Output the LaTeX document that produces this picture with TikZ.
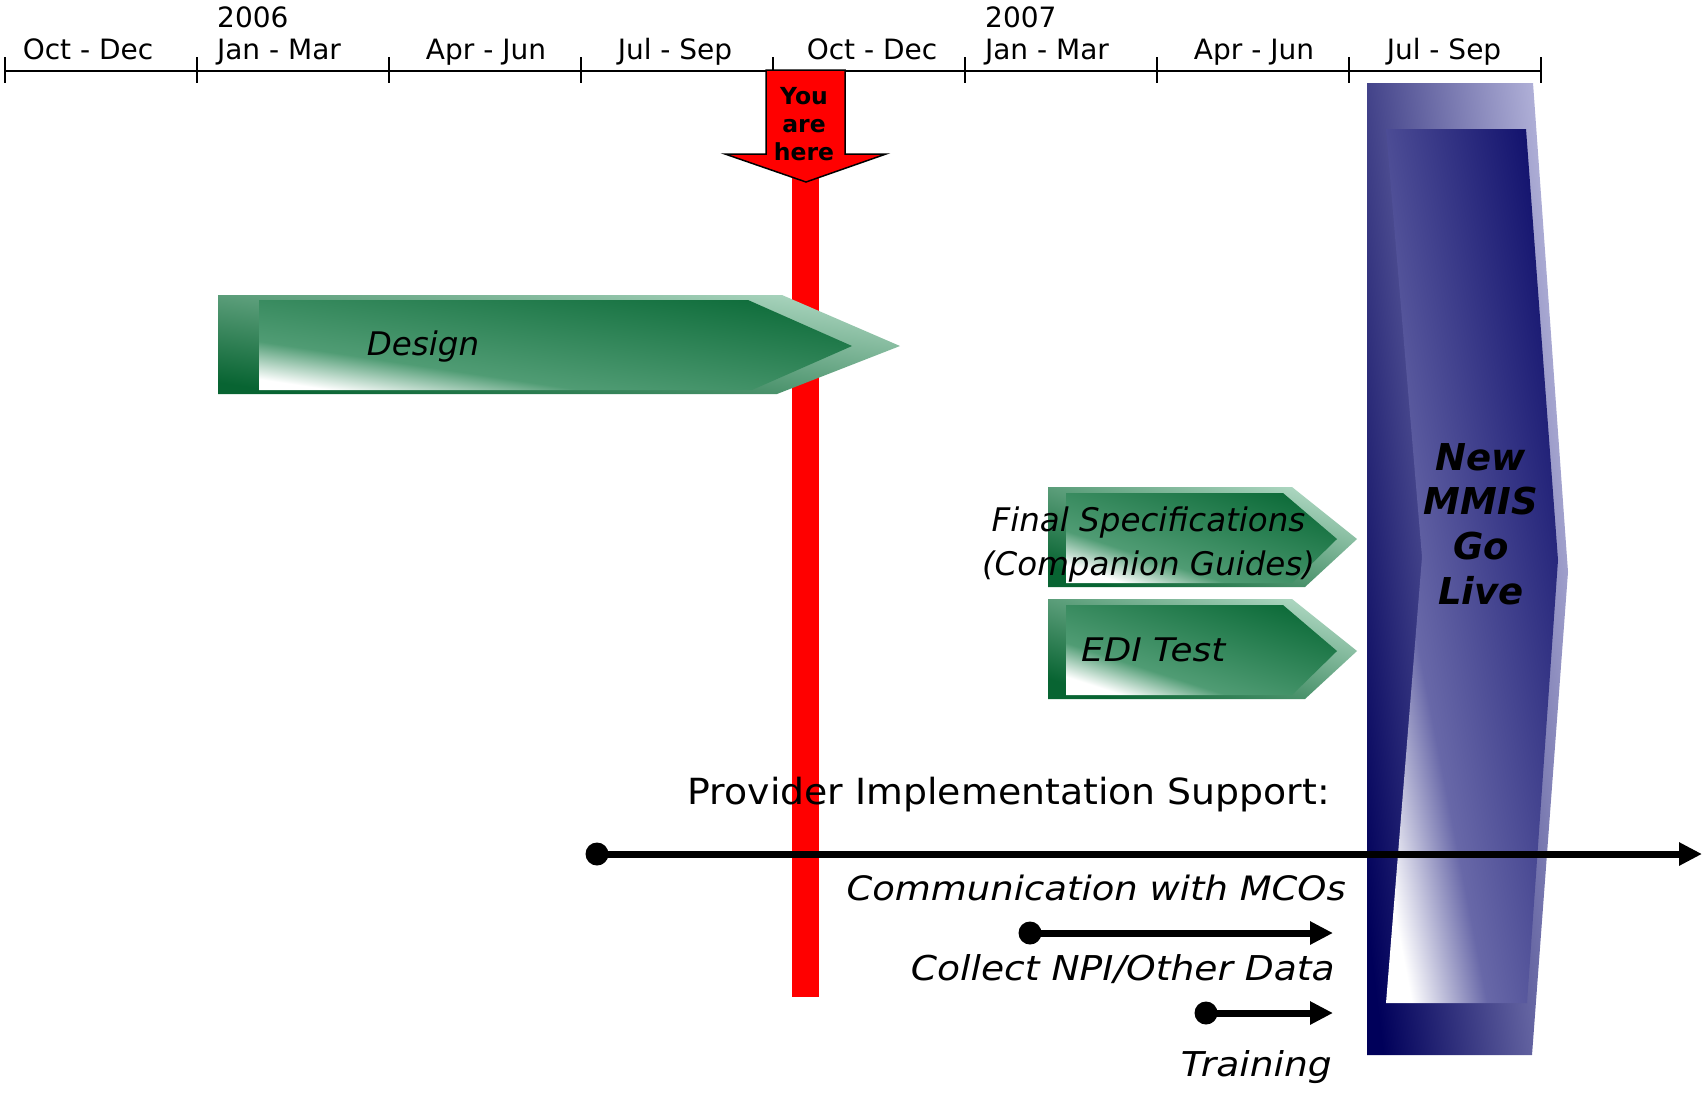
\documentclass[tikz,border=0pt]{standalone}
\usepackage{fontspec}
\setmainfont{DejaVu Sans}[BoldFont={DejaVu Sans Bold},ItalicFont={DejaVu Sans Oblique},BoldItalicFont={DejaVu Sans Bold Oblique}]
\newfontfamily\wideoblique{DejaVu Sans Oblique}[FakeStretch=1.1]
\newfontfamily\wideupright{DejaVu Sans}[FakeStretch=1.05]
\usetikzlibrary{arrows.meta}
\definecolor{gDark}{RGB}{8,100,50}
\definecolor{gLight}{RGB}{172,214,192}
\definecolor{gMid}{RGB}{80,156,116}
\definecolor{gFaceDark}{RGB}{14,108,58}
\definecolor{bDark}{RGB}{0,0,90}
\definecolor{bLight}{RGB}{188,188,224}
\definecolor{bMid}{RGB}{104,104,168}
\definecolor{bFaceDark}{RGB}{16,16,108}
\definecolor{youRed}{RGB}{255,0,0}
\pgfdeclareverticalshading{gfaceshade}{100bp}{color(0bp)=(white); color(25bp)=(white); color(37bp)=(gMid); color(75bp)=(gFaceDark); color(100bp)=(gFaceDark)}
\pgfdeclareverticalshading{bfaceshade}{100bp}{color(0bp)=(white); color(25bp)=(white); color(38bp)=(bMid); color(75bp)=(bFaceDark); color(100bp)=(bFaceDark)}
\begin{document}
\begin{tikzpicture}[x=1pt,y=-1pt,
  qlab/.style={font=\fontsize{28}{33}\selectfont, inner sep=0pt, anchor=base},
  tasklab/.style={font=\itshape\fontsize{32.5}{44}\selectfont, inner sep=0pt, align=center},
  supportlab/.style={font=\wideoblique\fontsize{34.2}{40}\selectfont, inner sep=0pt, anchor=base east},
  gframe/.style={top color=gLight, bottom color=gDark, shading angle=#1},
  gface/.style={shading=gfaceshade, shading angle=#1},
  bframe/.style={top color=bLight, bottom color=bDark, shading angle=#1},
  bface/.style={shading=bfaceshade, shading angle=#1},
  tline/.style={line width=2pt, black},
  dotline/.style={line width=7pt, -{Triangle[length=23pt,width=22pt]}},
  dotstart/.style={fill=black}]
\useasboundingbox (0,0) rectangle (1705,1093);

% timeline
\coordinate (tl0) at (4.5,70.5);
\coordinate (tl1) at (1541.5,70.5);
\draw[tline] (tl0) -- (tl1);
\foreach \i in {0,...,8}{
  \coordinate (tk\i a) at ({4.5+192.1*\i},57);
  \coordinate (tk\i b) at ({4.5+192.1*\i},83);
  \draw[tline] (tk\i a) -- (tk\i b);
}
\node[qlab, anchor=base west] (y2006) at (217,27) {2006};
\node[qlab, anchor=base west] (y2007) at (985,27) {2007};
\node[qlab] (q1) at (88,59) {Oct - Dec};
\node[qlab] (q2) at (279,59) {Jan - Mar};
\node[qlab] (q3) at (486,59) {Apr - Jun};
\node[qlab] (q4) at (675,59) {Jul - Sep};
\node[qlab] (q5) at (872,59) {Oct - Dec};
\node[qlab] (q6) at (1047,59) {Jan - Mar};
\node[qlab] (q7) at (1254,59) {Apr - Jun};
\node[qlab] (q8) at (1444,59) {Jul - Sep};

% red "now" bar
\fill[youRed] (792,170) rectangle (819,997);

% Design arrow
\path[gframe=-8.3] (218,295) -- (782,295) -- (900,346) -- (777,394) -- (218,394) -- cycle;
\path[gface=-8.6] (259,300) -- (748,300) -- (852,346) -- (752,390) -- (259,390) -- cycle;
\node[tasklab, anchor=base] (design) at (423,355) {Design};

% You are here arrow
\filldraw[fill=youRed, draw=black, line width=1.5pt, line join=miter]
  (766,70) -- (845,70) -- (845,154) -- (886,154) -- (806,182) -- (725,154) -- (766,154) -- cycle;
\node[font=\bfseries\fontsize{23.5}{28.3}\selectfont, inner sep=0pt, align=center] (here) at (804,124) {You\\are\\here};

% Final specifications arrow
\path[gframe=-18] (1048,487) -- (1292,487) -- (1357,539) -- (1305,587) -- (1048,587) -- cycle;
\path[gface=-18] (1066,493) -- (1283,493) -- (1337,539) -- (1292,583) -- (1066,583) -- cycle;
% EDI arrow
\path[gframe=-18] (1048,599) -- (1292,599) -- (1357,651) -- (1305,699) -- (1048,699) -- cycle;
\path[gface=-18] (1066,605) -- (1283,605) -- (1337,651) -- (1292,695) -- (1066,695) -- cycle;
\node[tasklab] (finspec) at (1148.5,545) {Final Specifications\\(Companion Guides)};
\node[font=\wideoblique\fontsize{32.5}{40}\selectfont, inner sep=0pt, anchor=base west] (edi) at (1081,661) {EDI Test};

% Go live block
\path[bframe=-83] (1367,83) -- (1533,83) -- (1568,572) -- (1532,1055) -- (1367,1055) -- cycle;
\path[bface=-79] (1386,129) -- (1526,129) -- (1558,560) -- (1527,1003) -- (1386,1003) -- (1422,557) -- cycle;
\node[font=\bfseries\itshape\fontsize{37}{44.6}\selectfont, inner sep=0pt, align=center] (golive) at (1481,524) {New\\MMIS\\Go\\Live};

% provider implementation support
\node[font=\wideupright\fontsize{36}{40}\selectfont, inner sep=0pt, anchor=base east] (pis) at (1330,804) {Provider Implementation Support:};
\coordinate (ps0) at (597,854);
\coordinate (ps1) at (1702,854);
\draw[dotline] (ps0) -- (ps1);
\fill[dotstart] (ps0) circle[radius=11.5pt];

\node[supportlab, font=\wideoblique\fontsize{33.6}{40}\selectfont] (mco) at (1346,900) {Communication with MCOs};
\coordinate (mc0) at (1030,933);
\coordinate (mc1) at (1333,933);
\draw[dotline] (mc0) -- (mc1);
\fill[dotstart] (mc0) circle[radius=11.5pt];

\node[supportlab] (npi) at (1335,980) {Collect NPI/Other Data};
\coordinate (tr0) at (1206,1013);
\coordinate (tr1) at (1333,1013);
\draw[dotline] (tr0) -- (tr1);
\fill[dotstart] (tr0) circle[radius=11.5pt];

\node[supportlab] (train) at (1332,1076) {Training};
\end{tikzpicture}
\end{document}
